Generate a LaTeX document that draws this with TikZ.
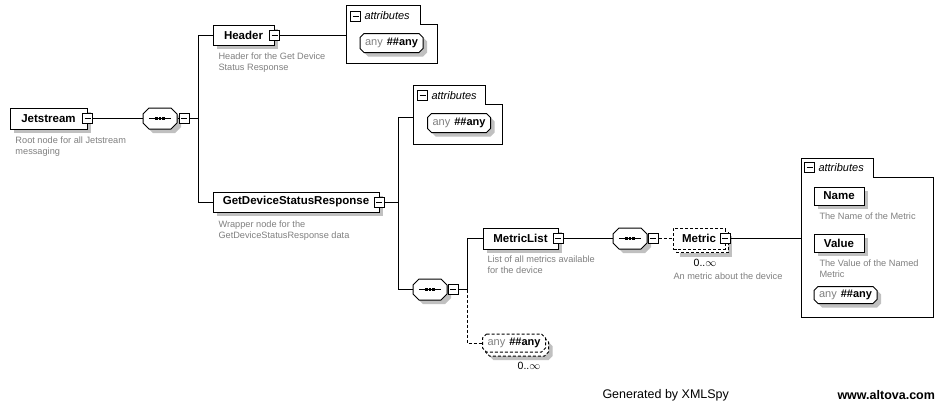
\documentclass[tikz,border=0pt]{standalone}
\usepackage{fontspec}
\setmainfont{Liberation Sans}
\usetikzlibrary{shadows}
\definecolor{shgray}{HTML}{C0C0C0}
\definecolor{descgray}{HTML}{808080}
\newcommand\xEl{\bfseries\fontsize{11.5}{13}\selectfont}
\newcommand\xDesc{\fontsize{9.2}{11.5}\selectfont}
\newcommand\xAny{{\color{descgray}any}\hspace{4pt}\textbf{\#\#any}}
% octagon outline path: x, y, w, h, cut
\newcommand\xOctPath[5]{({#1-#3/2+#5},{#2-#4/2}) -- ({#1+#3/2-#5},{#2-#4/2}) -- ({#1+#3/2},{#2-#4/2+#5}) -- ({#1+#3/2},{#2+#4/2-#5}) -- ({#1+#3/2-#5},{#2+#4/2}) -- ({#1-#3/2+#5},{#2+#4/2}) -- ({#1-#3/2},{#2+#4/2-#5}) -- ({#1-#3/2},{#2-#4/2+#5}) -- cycle}
% octagon with shadow; #6 extra style
\newcommand\xOctS[6]{\fill[shgray] \xOctPath{#1+4}{#2+4}{#3}{#4}{#5};
  \draw[fill=white,#6] \xOctPath{#1}{#2}{#3}{#4}{#5};}
\newcommand\xOctN[6]{\draw[fill=white,#6] \xOctPath{#1}{#2}{#3}{#4}{#5};}
% sequence glyph at x,y
\newcommand\xSeqGlyph[2]{\draw ({#1-11},#2) -- ({#1+11},#2);
  \fill ({#1-4.7},{#2-1.2}) rectangle ({#1-2.3},{#2+1.2});
  \fill ({#1-1.2},{#2-1.2}) rectangle ({#1+1.2},{#2+1.2});
  \fill ({#1+2.3},{#2-1.2}) rectangle ({#1+4.7},{#2+1.2});}
\begin{document}
\begin{tikzpicture}[x=1pt,y=-1pt,line width=1pt,
 shd/.style={drop shadow={shadow xshift=4pt,shadow yshift=-4pt,fill=shgray,opacity=1}},
 elem/.style={draw, fill=white, inner sep=0, font=\xEl, minimum height=21, shd},
 mbox/.style={draw, fill=white, minimum size=10, inner sep=0,
   path picture={\draw ([xshift=2pt]path picture bounding box.west) -- ([xshift=-2pt]path picture bounding box.east);}},
 seq/.style={minimum width=34, minimum height=21, inner sep=0},
 pill/.style={minimum height=18, minimum width=63, inner sep=0, font=\fontsize{11}{13}\selectfont},
 desc/.style={anchor=north west, inner sep=0, align=left, text=descgray, font=\xDesc},
 attrbox/.style={draw},
 attrlbl/.style={anchor=west, inner sep=0, font=\itshape\fontsize{11}{13}\selectfont},
 mydash/.style={dash pattern=on 3pt off 2pt},
 mult/.style={font=\fontsize{10.5}{12}\selectfont, inner sep=0},
 foot/.style={anchor=west, inner sep=0, font=\fontsize{12.5}{15}\selectfont}
]
\useasboundingbox (0,0) rectangle (943,402);
\fill[white] (0,0) rectangle (943,402);

% ---------- Jetstream
\node[elem, minimum width=77] (J) at (48.5,118.5) {Jetstream};
\node[mbox] (Jm) at (87.5,118.5) {};
\node[desc] (Jd) at (15,136) {Root node for all Jetstream\\messaging};
\xOctS{160}{118.5}{34}{21}{6}{}
\xSeqGlyph{160}{118.5}
\node[seq] (S1) at (160,118.5) {};
\node[mbox] (S1m) at (184,118.5) {};
\coordinate (t1) at (198,118.5);
\draw (Jm.east) -- (S1.west);
\draw (S1.east) -- (S1m.west);
\draw (S1m.east) -- (t1);

% ---------- Header
\node[elem, minimum width=61, minimum height=20] (H) at (243.5,35) {Header};
\node[mbox] (Hm) at (274.5,35) {};
\node[desc] (Hd) at (218,52) {Header for the Get Device\\Status Response};
\draw (H.west) -| (t1);
\coordinate (ha) at (346,35);
\draw (Hm.east) -- (ha);
\draw[attrbox] (346,5) -- (420,5) -- (420,24) -- (437,24) -- (437,63) -- (346,63) -- cycle;
\node[mbox] (HAm) at (355.5,16) {};
\node[attrlbl] (HAl) at (364,15.5) {attributes};
\xOctS{391.5}{43}{63}{19}{4}{}
\node[pill] (HAp) at (391.5,43) {\xAny};

% ---------- GetDeviceStatusResponse
\node[elem, minimum width=166, minimum height=20] (G) at (296,202) {GetDeviceStatusResponse};
\node[mbox] (Gm) at (379,202) {};
\node[desc] (Gd) at (218,220) {Wrapper node for the\\GetDeviceStatusResponse data};
\draw (G.west) -| (t1);
\coordinate (j2) at (398,202);
\draw (Gm.east) -- (j2);
\coordinate (ga) at (413,117);
\draw (ga) -| (j2);
\draw[attrbox] (413,85) -- (485,85) -- (485,104) -- (502,104) -- (502,144) -- (413,144) -- cycle;
\node[mbox] (GAm) at (422.5,95.5) {};
\node[attrlbl] (GAl) at (431,95.5) {attributes};
\xOctS{459}{123}{63}{19}{4}{}
\node[pill] (GAp) at (459,123) {\xAny};

% ---------- inner sequence
\xOctS{430}{289.5}{34}{21}{6}{}
\xSeqGlyph{430}{289.5}
\node[seq] (S2) at (430,289.5) {};
\node[mbox] (S2m) at (453,289.5) {};
\draw (S2.west) -| (j2);
\draw (S2.east) -- (S2m.west);
\coordinate (j3) at (467,289.5);
\draw (S2m.east) -- (j3);

% ---------- MetricList
\node[elem, minimum width=75] (ML) at (520.5,238.5) {MetricList};
\node[mbox] (MLm) at (558,238.5) {};
\node[desc] (MLd) at (487,255) {List of all metrics available\\for the device};
\draw (ML.west) -| (j3);

% ---------- any (dashed, multiple)
\xOctS{517}{347}{63}{18}{4}{mydash}
\xOctN{514}{343}{63}{18}{4}{mydash}
\node[pill] (AnyD) at (514,343) {\xAny};
\node[mult] (AnyN) at (529,366) {0..$\infty$};
\draw[mydash] (j3) |- (AnyD.west);

% ---------- sequence + Metric
\xOctS{630}{238.5}{34}{21}{6}{}
\xSeqGlyph{630}{238.5}
\node[seq] (S3) at (630,238.5) {};
\node[mbox] (S3m) at (653,238.5) {};
\draw (MLm.east) -- (S3.west);
\draw (S3.east) -- (S3m.west);
\node[elem, mydash, minimum width=52] (MB) at (702,242) {};
\node[draw, fill=white, mydash, inner sep=0, font=\xEl, minimum height=21, minimum width=52] (M) at (699,238.5) {Metric};
\node[mbox] (Mm) at (725,238.5) {};
\draw[mydash] (S3m.east) -- (M.west);
\node[mult] (MN) at (705,263) {0..$\infty$};
\node[desc] (Md) at (673,272) {An metric about the device};
\coordinate (ma) at (801,238.5);
\draw (Mm.east) -- (ma);
\draw[attrbox] (801,158) -- (873,158) -- (873,177) -- (933,177) -- (933,317) -- (801,317) -- cycle;
\node[mbox] (MAm) at (809.5,167.5) {};
\node[attrlbl] (MAl) at (818,167.5) {attributes};
\node[elem, minimum width=50, minimum height=18] (Nm) at (839,196) {Name};
\node[desc] (Nmd) at (819,212) {The Name of the Metric};
\node[elem, minimum width=50, minimum height=18] (Vl) at (839,243) {Value};
\node[desc] (Vld) at (819,259) {The Value of the Named\\Metric};
\xOctS{845.5}{295}{63}{17}{4}{}
\node[pill, minimum height=17] (MAp) at (845.5,295) {\xAny};

% ---------- footer
\node[foot] (F1) at (602,395) {Generated by XMLSpy};
\node[foot, font=\bfseries\fontsize{12.5}{15}\selectfont] (F2) at (837,395) {www.altova.com};
\end{tikzpicture}
\end{document}
